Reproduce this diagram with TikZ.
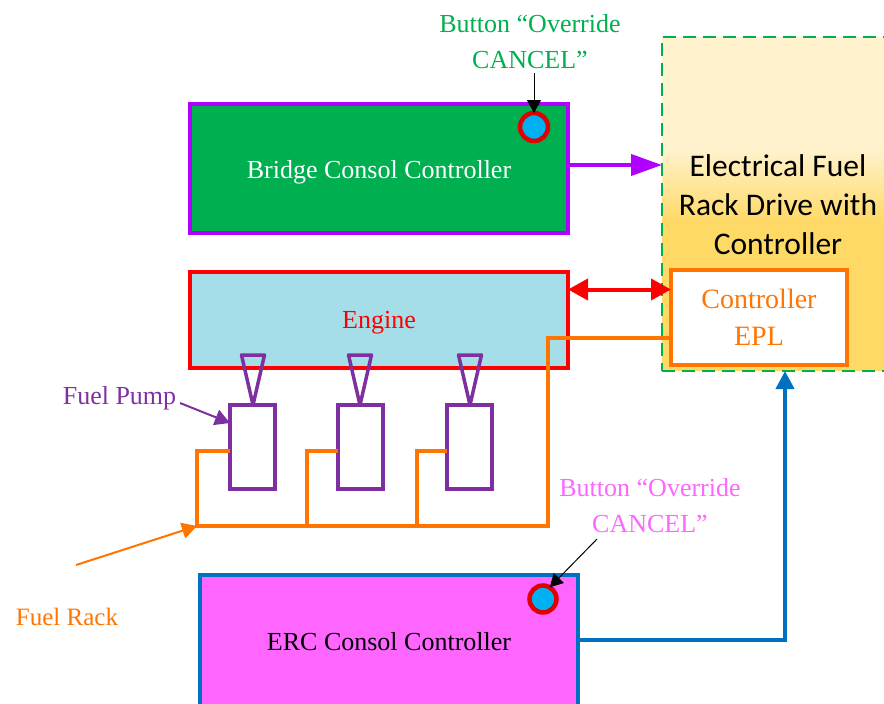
\documentclass[tikz,border=0pt]{standalone}
\usepackage{fontspec}
\setmainfont{Liberation Serif}
\newfontfamily\drivefont{Carlito}
\usetikzlibrary{arrows.meta,shapes.geometric}
\definecolor{cgreen}{HTML}{00B050}
\definecolor{cpurple}{HTML}{B000FF}
\definecolor{cred}{HTML}{FF0000}
\definecolor{cblue}{HTML}{A5DEE9}
\definecolor{corange}{HTML}{FF7500}
\definecolor{cviolet}{HTML}{7F30A0}
\definecolor{cmag}{HTML}{FF66FF}
\definecolor{cstroke}{HTML}{0070C0}
\definecolor{ccyan}{HTML}{00B0F0}
\definecolor{cdark}{HTML}{E00000}
\definecolor{clight}{HTML}{FFF2CC}
\definecolor{cgold}{HTML}{FFD966}
\tikzset{
  x=1pt,y=-1pt,
  lbl/.style={font=\fontsize{26}{36}\selectfont,align=center,inner sep=0pt,outer sep=0pt},
  boxn/.style={rectangle,inner sep=0pt,outer sep=0pt,line width=4pt,line join=miter},
  pump/.style={rectangle,draw=cviolet,line width=3.5pt,fill=white,minimum width=45pt,minimum height=84pt,inner sep=0pt,outer sep=0pt},
  btn/.style={circle,draw=cdark,fill=ccyan,line width=4.5pt,minimum size=28pt,inner sep=0pt,outer sep=0pt},
  rack/.style={draw=corange,line width=3.5pt,line join=miter},
  thin/.style={draw=black,line width=1pt,-{Triangle[length=13pt,width=14pt]}},
}
\begin{document}
\begin{tikzpicture}
\useasboundingbox (0,0) rectangle (884,704);
\clip (0,0) rectangle (884,704);
% drive background
\fill[clight] (662,37) rectangle (890,150);
\shade[top color=clight,bottom color=cgold] (662,150) rectangle (890,222);
\fill[cgold] (662,222) rectangle (890,371);
\node[boxn,draw=cgreen,line width=2pt,dash pattern=on 13pt off 7pt,minimum width=240pt,minimum height=334pt,anchor=north west] (drive) at (662,37) {};
\node[inner sep=0pt,align=center,font=\drivefont\fontsize{31.5}{39}\selectfont] (drivetxt) at (778,205) {Electrical Fuel\\Rack Drive with\\Controller};
% boxes
\node[boxn,draw=cpurple,fill=cgreen,minimum width=378pt,minimum height=129pt,anchor=north west] (bridge) at (190,104) {};
\node[lbl,text=white] (bridgetxt) at (379,172) {Bridge Consol Controller};
\node[boxn,draw=cred,fill=cblue,minimum width=378pt,minimum height=96pt,anchor=north west] (engine) at (190,272) {};
\node[lbl,text=cred] (enginetxt) at (379,323) {Engine};
\node[boxn,draw=cstroke,fill=cmag,minimum width=378pt,minimum height=170pt,anchor=north west] (erc) at (200,575) {};
\node[lbl] (erctxt) at (389,642) {ERC Consol Controller};
% pumps
\node[pump,anchor=north west] (p1) at (230,405) {};
\node[pump,anchor=north west] (p2) at (338,405) {};
\node[pump,anchor=north west] (p3) at (447,405) {};
\foreach \c/\n in {253/t1,360/t2,470/t3}{
  \coordinate (\n) at (\c,405);
  \draw[cviolet,line width=3.5pt,line join=round,fill=none] (\c-11.5,355) -- (\c+11.5,355) -- (\n) -- cycle;
}
% controller
\node[boxn,draw=corange,fill=white,minimum width=176pt,minimum height=95pt,anchor=north west] (ctrl) at (671,270) {};
\node[lbl,text=corange,font=\fontsize{28}{37}\selectfont] (ctrltxt) at (759,317) {Controller\\EPL};
% rack
\coordinate (r0) at (197,526);
\coordinate (r1) at (307,526);
\coordinate (r2) at (417,526);
\coordinate (r3) at (548,526);
\coordinate (c0) at (548,338);
\draw[rack] (ctrl.west |- c0) -- (c0) -- (r3) -- (r0) -- (197,451) -- (p1.west |- 0,451);
\draw[rack] (r1) -- (307,451) -- (p2.west |- 0,451);
\draw[rack] (r2) -- (417,451) -- (p3.west |- 0,451);
% buttons
\node[btn] (b1) at (534,127) {};
\node[btn,minimum size=27pt] (b2) at (543,599) {};
% labels
\node[lbl,text=cgreen] (t1txt) at (530,42) {Button “Override\\CANCEL”};
\node[lbl,text=cmag] (t2txt) at (650,506) {Button “Override\\CANCEL”};
\node[lbl,text=cviolet] (fp) at (119.5,398) {Fuel Pump};
\node[lbl,text=corange,font=\fontsize{25}{36}\selectfont] (fr) at (67,617) {Fuel Rack};
% connectors
\coordinate (a1s) at (534,73);
\coordinate (a2s) at (597,539);
\coordinate (a3s) at (180,403);
\coordinate (a4s) at (76,565);
\draw[thin] (a1s) -- (b1.north);
\draw[thin] (a2s) -- (b2.60);
\draw[cviolet,line width=2pt,-{Triangle[length=15pt,width=16pt]}] (a3s) -- (p1.west |- 0,423);
\draw[corange,line width=2pt,-{Triangle[length=15pt,width=16pt]}] (a4s) -- (r0);
\draw[cpurple,line width=4pt,-{Triangle[length=31pt,width=21pt]}] (bridge.east |- 0,165) -- (drive.west |- 0,165);
\draw[cred,line width=4pt,{Triangle[length=20pt,width=21pt]}-{Triangle[length=20pt,width=21pt]}] (engine.east |- 0,289.5) -- (ctrl.west |- 0,289.5);
\coordinate (e1) at (785,640);
\draw[cstroke,line width=4pt,line join=miter,-{Triangle[length=18pt,width=18pt]}] (erc.east |- e1) -- (e1) -- (785,371);
\end{tikzpicture}
\end{document}
